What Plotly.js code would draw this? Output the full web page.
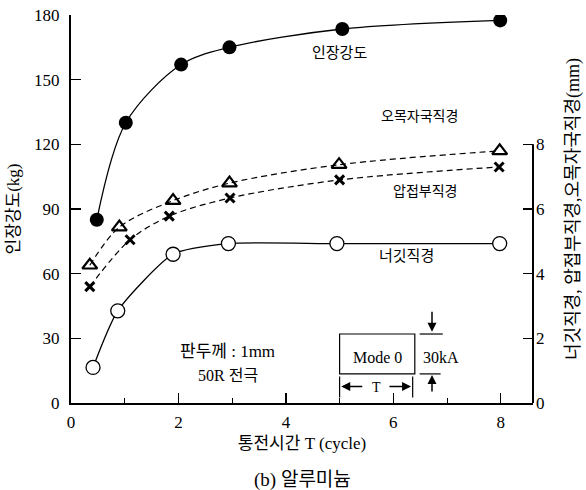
<!DOCTYPE html>
<html>
<head>
<meta charset="utf-8">
<script src="https://cdn.plot.ly/plotly-3.0.1.min.js"></script>
<style>body{margin:0;background:#fff}#chart{width:586px;height:490px}</style>
</head>
<body>
<div id="chart"></div>
<script>
// Data
const tensileX = [0.48, 1.02, 2.05, 2.95, 5.05, 7.99];
const tensileY = [85, 130, 157, 165, 173.5, 177.5];          // 인장강도 (kg), left axis

const indentX = [0.35, 0.9, 1.9, 2.95, 4.99, 7.98];
const indentY = [4.26, 5.44, 6.26, 6.8, 7.37, 7.8];          // 오목자국직경 (mm), right axis

const weldX = [0.35, 1.1, 1.83, 2.96, 5.0, 7.97];
const weldY = [3.6, 5.05, 5.78, 6.34, 6.9, 7.3];             // 압접부직경 (mm), right axis

const nuggetX = [0.41, 0.87, 1.9, 2.93, 4.95, 7.98];
const nuggetY = [1.1, 2.85, 4.6, 4.93, 4.93, 4.93];          // 너깃직경 (mm), right axis

const leftTicks = [0, 30, 60, 90, 120, 150, 180];
const rightTicks = [0, 2, 4, 6, 8];
const xTicks = [0, 2, 4, 6, 8];

const FONT = 'Liberation Serif, "Noto Sans CJK KR", serif';

const traces = [
  {x: tensileX, y: tensileY, type: 'scatter', mode: 'lines+markers', yaxis: 'y',
   line: {color: '#000', width: 1.3, shape: 'spline', smoothing: 0.9},
   marker: {symbol: 'circle', size: 14, color: '#000'}},
  {x: indentX, y: indentY, type: 'scatter', mode: 'lines+markers', yaxis: 'y2',
   line: {color: '#000', width: 1.2, dash: '6px,4px', shape: 'spline', smoothing: 0.9},
   marker: {symbol: 'triangle-up-open', size: 13, color: '#000', line: {width: 2.2, color: '#000'}}},
  {x: weldX, y: weldY, type: 'scatter', mode: 'lines+markers', yaxis: 'y2',
   line: {color: '#000', width: 1.2, dash: '6px,4px', shape: 'spline', smoothing: 0.9},
   marker: {symbol: 'x-thin', size: 9, color: '#000', line: {width: 3, color: '#000'}}},
  {x: nuggetX, y: nuggetY, type: 'scatter', mode: 'lines+markers', yaxis: 'y2',
   line: {color: '#000', width: 1.3, shape: 'spline', smoothing: 0.6},
   marker: {symbol: 'circle', size: 14, color: '#fff', line: {width: 1.3, color: '#000'}}}
];

const ann = (x, y, text, size) => ({x: x, y: y, xref: 'x', yref: 'y', text: text,
  showarrow: false, font: {family: FONT, size: size, color: '#000'}});

const arrow = (x, y, ax, ay) => ({x: x, y: y, ax: ax, ay: ay, xref: 'x', yref: 'y', axref: 'x', ayref: 'y',
  text: '', showarrow: true, arrowhead: 2, arrowsize: 1.2, arrowwidth: 1.5, arrowcolor: '#000'});

const layout = {
  width: 586, height: 490,
  margin: {l: 71, r: 53, t: 15, b: 87},
  paper_bgcolor: '#fff', plot_bgcolor: '#fff',
  showlegend: false,
  font: {family: FONT, size: 15, color: '#000'},
  xaxis: {
    range: [0, 8.6], tickvals: xTicks, ticks: 'inside', ticklen: 10, tickwidth: 1.3, tickcolor: '#000',
    minor: {dtick: 1, tick0: 0, ticks: 'inside', ticklen: 5, tickwidth: 1, tickcolor: '#000'},
    showline: true, linewidth: 2, linecolor: '#000', showgrid: false, zeroline: false,
    tickfont: {family: FONT, size: 17}, ticklabelstandoff: 3,
    title: {text: '통전시간 T (cycle)', font: {family: FONT, size: 17}, standoff: 6}
  },
  yaxis: {
    range: [0, 180], tickvals: leftTicks, ticks: 'inside', ticklen: 10, tickwidth: 1.3, tickcolor: '#000',
    showline: true, linewidth: 2, linecolor: '#000', showgrid: false, zeroline: false,
    tickfont: {family: FONT, size: 17}, ticklabelstandoff: 6,
    title: {text: '인장강도(kg)', font: {family: FONT, size: 17}, standoff: 10}
  },
  yaxis2: {
    overlaying: 'y', side: 'right', range: [0, 12], tickvals: rightTicks,
    ticks: 'inside', ticklen: 10, tickwidth: 1.3, tickcolor: '#000',
    showline: false, showgrid: false, zeroline: false,
    tickfont: {family: FONT, size: 17}, ticklabelstandoff: 2,
    title: {text: '너깃직경, 압접부직경,오목자국직경(mm)', font: {family: FONT, size: 18}, standoff: 22}
  },
  shapes: [
    // right axis line only spans 0..8
    {type: 'line', xref: 'paper', yref: 'y2', x0: 1, x1: 1, y0: 0, y1: 8, line: {color: '#000', width: 2}},
    // Mode 0 box
    {type: 'rect', xref: 'x', yref: 'y', x0: 5.0, x1: 6.4, y0: 13.5, y1: 32, line: {color: '#000', width: 1.2}},
    {type: 'line', xref: 'x', yref: 'y', x0: 6.49, x1: 6.92, y0: 32, y1: 32, line: {color: '#000', width: 1.2}},
    {type: 'line', xref: 'x', yref: 'y', x0: 6.49, x1: 6.88, y0: 13.5, y1: 13.5, line: {color: '#000', width: 1.2}},
    {type: 'line', xref: 'x', yref: 'y', x0: 5.0, x1: 5.0, y0: 2.6, y1: 12.3, line: {color: '#000', width: 1.2}},
    {type: 'line', xref: 'x', yref: 'y', x0: 6.36, x1: 6.36, y0: 2.6, y1: 12.3, line: {color: '#000', width: 1.2}}
  ],
  annotations: [
    ann(5.0, 162.5, '인장강도', 15),
    ann(6.48, 8.86 * 15, '오목자국직경', 14),
    ann(6.59, 6.55 * 15, '압접부직경', 14),
    ann(6.25, 4.55 * 15, '너깃직경', 15),
    ann(2.92, 24, '판두께 : 1mm', 17),
    ann(2.92, 12.8, '50R 전극', 16),
    ann(5.71, 21.2, 'Mode 0', 16),
    ann(6.88, 21.2, '30kA', 16),
    ann(5.69, 7.2, 'T', 14),
    arrow(6.72, 33, 6.72, 43),
    arrow(6.72, 13, 6.72, 4.6),
    arrow(5.03, 7.7, 5.45, 7.7),
    arrow(6.33, 7.7, 5.9, 7.7),
    {x: 0.5, y: -0.198, xref: 'paper', yref: 'paper', text: '(b) 알루미늄', showarrow: false,
     font: {family: FONT, size: 19, color: '#000'}, xanchor: 'center', yanchor: 'middle'}
  ]
};

Plotly.newPlot('chart', traces, layout, {displayModeBar: false, staticPlot: true});
</script>
</body>
</html>
